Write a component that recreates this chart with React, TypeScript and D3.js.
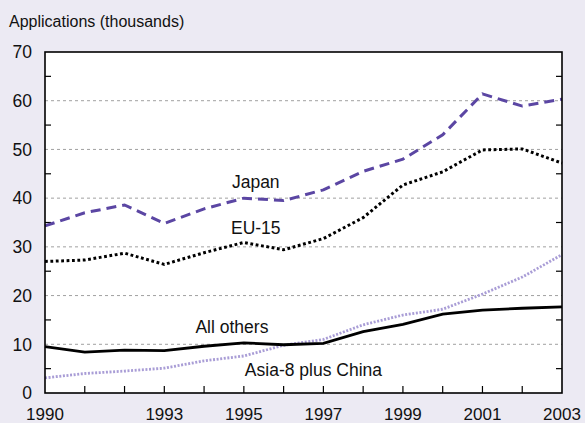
import { useEffect, useRef } from 'react'
import * as d3 from 'd3'

const years = [1990, 1991, 1992, 1993, 1994, 1995, 1996, 1997, 1998, 1999, 2000, 2001, 2002, 2003]
const japan = [34.3, 37.0, 38.6, 34.8, 37.8, 40.0, 39.5, 41.7, 45.5, 48.0, 53.0, 61.4, 58.9, 60.3]
const eu15 = [27.0, 27.3, 28.7, 26.4, 28.8, 30.9, 29.4, 31.7, 36.0, 42.7, 45.4, 49.9, 50.1, 47.2]
const allOthers = [9.5, 8.4, 8.8, 8.7, 9.6, 10.3, 9.9, 10.2, 12.6, 14.1, 16.2, 17.0, 17.4, 17.7]
const asia = [3.1, 4.0, 4.5, 5.1, 6.6, 7.6, 9.8, 11.0, 14.0, 16.0, 17.2, 20.3, 23.8, 28.4]
const xTickLabels = [1990, 1993, 1995, 1997, 1999, 2001, 2003]
const yTickLabels = [0, 10, 20, 30, 40, 50, 60, 70]
const yMinor = [5, 15, 25, 35, 45, 55, 65]

const W = 585
const H = 423
const margin = { left: 45, right: 23, top: 52, bottom: 30 }
const font = 'Liberation Sans, Arial, Helvetica, sans-serif'

function App() {
  const ref = useRef<SVGSVGElement>(null)

  useEffect(() => {
    const svg = d3.select(ref.current)
    svg.selectAll('*').remove()

    const x = d3.scaleLinear().domain([1990, 2003]).range([margin.left, W - margin.right])
    const y = d3.scaleLinear().domain([0, 70]).range([H - margin.bottom, margin.top])

    svg.append('rect').attr('width', W).attr('height', H).attr('fill', '#ECEAF3')
    svg.append('rect')
      .attr('x', x(1990)).attr('y', y(70))
      .attr('width', x(2003) - x(1990)).attr('height', y(0) - y(70))
      .attr('fill', '#ffffff')

    // gridlines
    svg.append('g').selectAll('line')
      .data([10, 20, 30, 40, 50, 60])
      .join('line')
      .attr('x1', x(1990)).attr('x2', x(2003))
      .attr('y1', d => y(d)).attr('y2', d => y(d))
      .attr('stroke', '#a0a0a0').attr('stroke-width', 1)
      .attr('stroke-dasharray', '3,3')

    // minor ticks on both sides
    const tk = svg.append('g').attr('stroke', '#000').attr('stroke-width', 1.2)
    tk.selectAll('line.l').data(yMinor).join('line').attr('class', 'l')
      .attr('x1', x(1990)).attr('x2', x(1990) + 6)
      .attr('y1', d => y(d)).attr('y2', d => y(d))
    tk.selectAll('line.r').data(yMinor).join('line').attr('class', 'r')
      .attr('x1', x(2003)).attr('x2', x(2003) - 6)
      .attr('y1', d => y(d)).attr('y2', d => y(d))
    tk.selectAll('line.b').data(years.slice(1, -1)).join('line').attr('class', 'b')
      .attr('x1', d => x(d)).attr('x2', d => x(d))
      .attr('y1', y(0)).attr('y2', y(0) - 7)

    const line = (vals: number[]) =>
      d3.line<number>().x((_, i) => x(years[i])).y(d => y(d))(vals)

    svg.append('path').attr('d', line(asia)).attr('fill', 'none')
      .attr('stroke', '#A99DD6').attr('stroke-width', 2.8).attr('stroke-dasharray', '2,1.6')
    svg.append('path').attr('d', line(allOthers)).attr('fill', 'none')
      .attr('stroke', '#000').attr('stroke-width', 2.8)
    svg.append('path').attr('d', line(eu15)).attr('fill', 'none')
      .attr('stroke', '#000').attr('stroke-width', 3).attr('stroke-dasharray', '2.8,2.6')
    svg.append('path').attr('d', line(japan)).attr('fill', 'none')
      .attr('stroke', '#5B46A3').attr('stroke-width', 3).attr('stroke-dasharray', '10,6')

    // frame
    svg.append('rect')
      .attr('x', x(1990)).attr('y', y(70))
      .attr('width', x(2003) - x(1990)).attr('height', y(0) - y(70))
      .attr('fill', 'none').attr('stroke', '#000').attr('stroke-width', 1.6)

    const txt = svg.append('g').attr('font-family', font).attr('fill', '#111')
    txt.append('text').attr('x', 9).attr('y', 27).attr('font-size', 16)
      .text('Applications (thousands)')
    txt.selectAll('text.y').data(yTickLabels).join('text').attr('class', 'y')
      .attr('x', 32).attr('y', d => y(d)).attr('dy', '0.36em')
      .attr('text-anchor', 'end').attr('font-size', 17.5)
      .text(d => d)
    txt.selectAll('text.x').data(xTickLabels).join('text').attr('class', 'x')
      .attr('x', d => x(d)).attr('y', H - 3.5)
      .attr('text-anchor', 'middle').attr('font-size', 17)
      .text(d => d)

    const labels = [
      { t: 'Japan', yr: 1995.3, v: 42.1 },
      { t: 'EU-15', yr: 1995.3, v: 32.7 },
      { t: 'All others', yr: 1994.7, v: 12.3 },
      { t: 'Asia-8 plus China', yr: 1996.75, v: 3.5 },
    ]
    txt.selectAll('text.s').data(labels).join('text').attr('class', 's')
      .attr('x', d => x(d.yr)).attr('y', d => y(d.v))
      .attr('text-anchor', 'middle').attr('font-size', 17.5)
      .text(d => d.t)
  }, [])

  return (
    <svg ref={ref} width={W} height={H} style={{ position: 'absolute', left: 0, top: 0 }} />
  )
}

export default App
